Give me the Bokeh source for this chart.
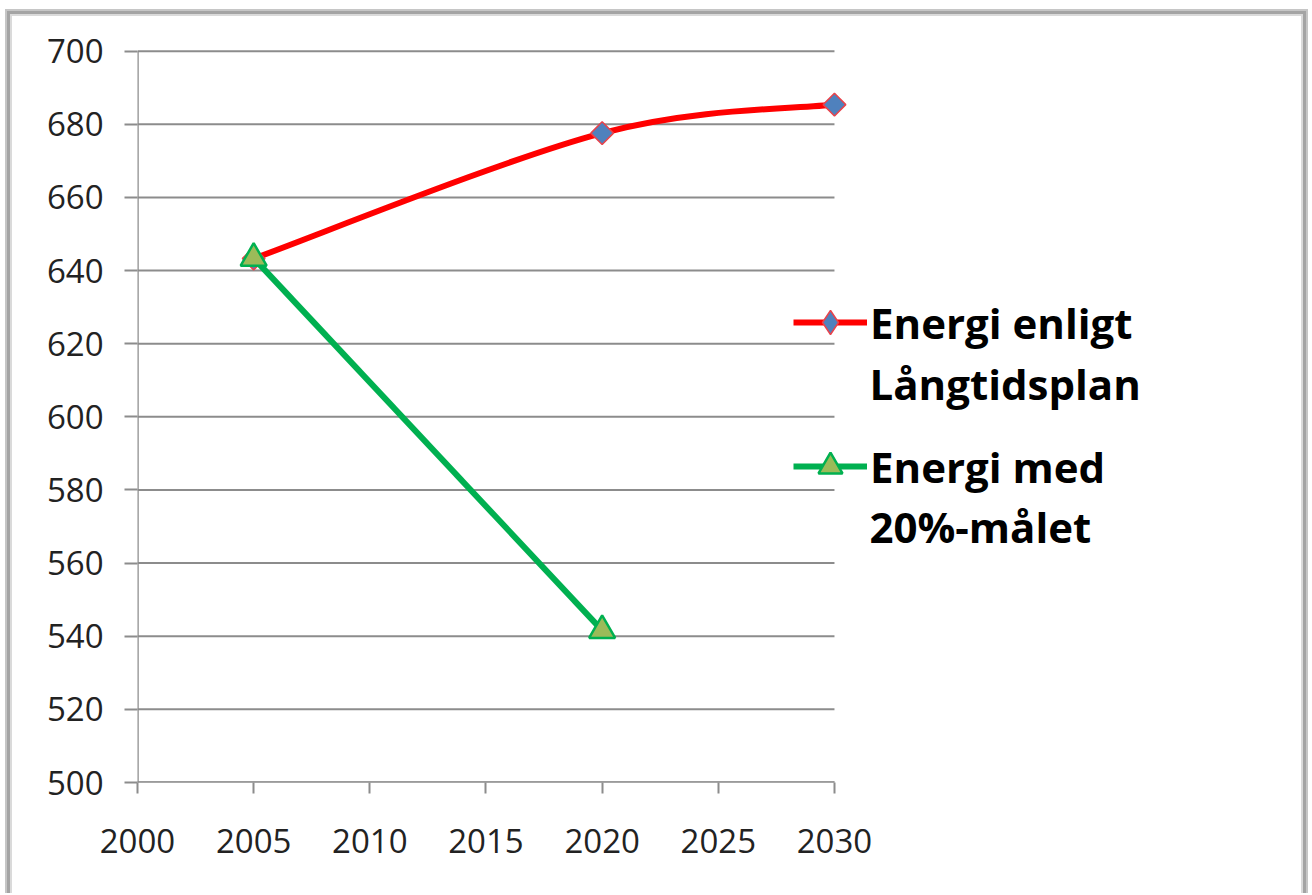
import numpy as np
from bokeh.plotting import figure
from bokeh.models import Range1d, FixedTicker, Legend, LegendItem, Label
from bokeh.embed import file_html
from bokeh.resources import INLINE

# ---- data ----
years_plan = [2005, 2020, 2030]
energy_plan = [643.3, 677.6, 685.4]
years_goal = [2005, 2020]
energy_goal = [643.4, 541.6]
x_ticks = [2000, 2005, 2010, 2015, 2020, 2025, 2030]
y_ticks = [500, 520, 540, 560, 580, 600, 620, 640, 660, 680, 700]
label_plan = ["Energi enligt", "Långtidsplan"]
label_goal = ["Energi med", "20%-målet"]

FONT = "Open Sans"
GRAY = "#8c8c8c"


def frame_shadow(bands):
    # bands: list of (color, left, top, right) thickness, topmost first
    parts = []
    for col, l, t, r in bands:
        parts.append(f"inset {l}px 0 0 0 {col}")
        parts.append(f"inset 0 {t}px 0 0 {col}")
        parts.append(f"inset -{r}px 0 0 0 {col}")
    return ", ".join(parts)


p = figure(width=1310, height=893, output_backend="svg", toolbar_location=None,
           x_range=Range1d(2000, 2050.49), y_range=Range1d(500, 713.87),
           min_border_left=137, min_border_right=0, min_border_top=0, min_border_bottom=111)
p.outline_line_color = None
p.background_fill_alpha = 0
p.border_fill_alpha = 0
p.styles = {"box-shadow": frame_shadow([
    ("#ffffff", 5, 9, 2),
    ("#c6c6c6", 7, 11, 4),
    ("#a4a4a4", 10, 14, 7),
    ("#dadada", 12, 16, 9),
])}

for ax in (p.xaxis[0], p.yaxis[0]):
    ax.axis_line_color = None
    ax.major_tick_line_color = GRAY
    ax.major_tick_line_width = 2
    ax.major_tick_in = 0
    ax.minor_tick_line_color = None
    ax.major_label_text_font = FONT
    ax.major_label_text_font_size = "33px"
    ax.major_label_text_color = "#222222"
p.xaxis.ticker = FixedTicker(ticks=x_ticks)
p.yaxis.ticker = FixedTicker(ticks=y_ticks)
p.xaxis.major_tick_out = 11
p.yaxis.major_tick_out = 13
p.xaxis.major_label_standoff = 35
p.yaxis.major_label_standoff = 21
p.xgrid.grid_line_color = None
p.ygrid.grid_line_color = None

# horizontal grid lines and axis lines, bounded by the tick extent
p.segment(x0=[x_ticks[0]] * len(y_ticks), x1=[x_ticks[-1]] * len(y_ticks),
          y0=y_ticks, y1=y_ticks, line_color=GRAY, line_width=2)
p.segment(x0=[x_ticks[0]], x1=[x_ticks[-1]], y0=[y_ticks[0]], y1=[y_ticks[0]],
          line_color=GRAY, line_width=2.5)
p.segment(x0=[x_ticks[0]], x1=[x_ticks[0]], y0=[y_ticks[0]], y1=[y_ticks[-1]],
          line_color=GRAY, line_width=2.5)

# smoothed red series (Excel-style Catmull-Rom bezier derived from the data)
xs = np.array(years_plan, dtype=float)
ys = np.array(energy_plan, dtype=float)
n = len(xs)
x0, y0, x1, y1, cx0, cy0, cx1, cy1 = [], [], [], [], [], [], [], []
for i in range(n - 1):
    pm = max(i - 1, 0)
    pp = min(i + 2, n - 1)
    x0.append(xs[i]); y0.append(ys[i])
    x1.append(xs[i + 1]); y1.append(ys[i + 1])
    cx0.append(xs[i] + (xs[i + 1] - xs[pm]) / 6.0)
    cy0.append(ys[i] + (ys[i + 1] - ys[pm]) / 6.0)
    cx1.append(xs[i + 1] - (xs[pp] - xs[i]) / 6.0)
    cy1.append(ys[i + 1] - (ys[pp] - ys[i]) / 6.0)
p.bezier(x0=x0, y0=y0, x1=x1, y1=y1, cx0=cx0, cy0=cy0, cx1=cx1, cy1=cy1,
         line_color="#ff0000", line_width=6)

green_line = p.line(years_goal, energy_goal, line_color="#00b050", line_width=6)
red_pts = p.scatter(years_plan, energy_plan, marker="square", angle=np.pi / 4, size=16,
                    fill_color="#4f81bd", line_color="#e8434b", line_width=1.5)
green_pts = p.scatter(years_goal, energy_goal, marker="triangle", size=26,
                      fill_color="#9bbb59", line_color="#00b050", line_width=2.5)

# legend-only sample glyphs (no visible data)
nan = np.array([np.nan])
red_leg_line = p.line(nan, nan, line_color="#ff0000", line_width=6)
red_leg_mark = p.scatter(nan, nan, marker="diamond", size=25,
                         fill_color="#4f81bd", line_color="#e8434b", line_width=1.5)

legend = Legend(items=[
    LegendItem(label=label_plan[0], renderers=[red_leg_line, red_leg_mark]),
    LegendItem(label=label_goal[0], renderers=[green_line, green_pts]),
], location=(656, 286))
legend.glyph_width = 74
legend.glyph_height = 60
legend.label_height = 60
legend.spacing = 84
legend.padding = 0
legend.margin = 0
legend.label_standoff = 3
legend.border_line_color = None
legend.background_fill_alpha = 0
legend.label_text_font = FONT
legend.label_text_font_style = "bold"
legend.label_text_font_size = "42px"
legend.label_text_color = "#000000"
p.add_layout(legend, "center")

for txt, yv in ((label_plan[1], 609.2), (label_goal[1], 570.0)):
    p.add_layout(Label(x=2030, y=yv, x_offset=35, text=txt, text_font=FONT,
                       text_font_style="bold", text_font_size="42px",
                       text_baseline="middle", text_color="#000000"))

open("out.html", "w").write(file_html(p, INLINE))
